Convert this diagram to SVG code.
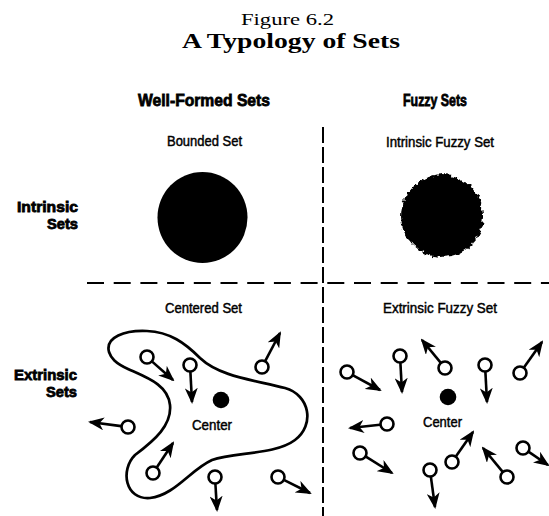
<svg xmlns="http://www.w3.org/2000/svg" width="549" height="516" viewBox="0 0 549 516">
<style>
.title{font-family:"Liberation Serif","DejaVu Serif",serif;fill:#000}
.head{font-family:"Liberation Sans","DejaVu Sans",sans-serif;font-weight:bold;font-size:17px;fill:#000;stroke:#000;stroke-width:0.8}
.side{font-family:"Liberation Sans","DejaVu Sans",sans-serif;font-weight:bold;font-size:15px;fill:#000;stroke:#000;stroke-width:0.8}
.lab{font-family:"Liberation Sans","DejaVu Sans",sans-serif;font-size:14px;fill:#000;stroke:#000;stroke-width:0.45}
.div{stroke:#000;stroke-width:2;fill:none}
.pt{fill:#fff;stroke:#000;stroke-width:2.6}
.arr{stroke:#000;stroke-width:2.6;fill:none;marker-end:url(#ah)}
.dot{fill:#000}
</style>
<defs>
<marker id="ah" viewBox="0 0 16 13" refX="14" refY="6.5" markerWidth="16" markerHeight="13" markerUnits="userSpaceOnUse" orient="auto">
<path d="M0,0 L16,6.5 L0,13 L4.5,6.5 Z" fill="#000"/>
</marker>
<filter id="rough" x="-20%" y="-20%" width="140%" height="140%">
<feTurbulence type="fractalNoise" baseFrequency="0.18" numOctaves="2" seed="3" result="n"/>
<feDisplacementMap in="SourceGraphic" in2="n" scale="7" xChannelSelector="R" yChannelSelector="G"/>
</filter>
</defs>
<rect width="549" height="516" fill="#fff"/>

<g id="title">
<text class="title" x="287.5" y="25" font-size="16" text-anchor="middle" textLength="93" lengthAdjust="spacingAndGlyphs">Figure 6.2</text>
<text class="title" x="291" y="48" font-size="22" font-weight="bold" text-anchor="middle" textLength="218" lengthAdjust="spacingAndGlyphs">A Typology of Sets</text>
</g>

<g id="headers">
<text class="head" x="204" y="106" text-anchor="middle" textLength="132" lengthAdjust="spacingAndGlyphs">Well-Formed Sets</text>
<text class="head" x="435" y="106" text-anchor="middle" textLength="64" lengthAdjust="spacingAndGlyphs">Fuzzy Sets</text>
<text class="side" x="78" y="212" text-anchor="end" textLength="61" lengthAdjust="spacingAndGlyphs">Intrinsic</text>
<text class="side" x="78" y="229" text-anchor="end" textLength="31" lengthAdjust="spacingAndGlyphs">Sets</text>
<text class="side" x="77" y="380" text-anchor="end" textLength="63" lengthAdjust="spacingAndGlyphs">Extrinsic</text>
<text class="side" x="77" y="397" text-anchor="end" textLength="31" lengthAdjust="spacingAndGlyphs">Sets</text>
</g>

<g id="dividers">
<line class="div" x1="323" y1="127" x2="323" y2="516" stroke-dasharray="16 4"/>
<line class="div" x1="87" y1="283" x2="549" y2="283" stroke-dasharray="17 9.7"/>
</g>

<g id="bounded-set">
<text class="lab" x="204.5" y="146" text-anchor="middle" textLength="75" lengthAdjust="spacingAndGlyphs">Bounded Set</text>
<ellipse cx="202.5" cy="217.5" rx="45" ry="45.5" fill="#000"/>
</g>

<g id="intrinsic-fuzzy-set">
<text class="lab" x="440" y="147" text-anchor="middle" textLength="108" lengthAdjust="spacingAndGlyphs">Intrinsic Fuzzy Set</text>
<circle cx="442" cy="216" r="41" fill="#000" filter="url(#rough)"/>
<circle cx="442" cy="216" r="39" fill="#000"/>
</g>

<g id="centered-set">
<text class="lab" x="203.5" y="313" text-anchor="middle" textLength="77" lengthAdjust="spacingAndGlyphs">Centered Set</text>
<path d="M 109,352 C 105,337 125,330 147,331 C 170,332 185,343 200,358 C 220,377 255,380 285,388 C 310,395 315,425 295,440 C 275,455 235,452 212,460 C 190,470 175,495 150,498 C 125,500 120,470 135,455 C 155,440 172,425 170,405 C 168,385 148,378 128,369 C 115,363 111,358 109,352 Z" fill="none" stroke="#000" stroke-width="2.7"/>
<circle class="dot" cx="221" cy="400" r="8.3"/>
<text class="lab" x="212" y="430" text-anchor="middle" textLength="40" lengthAdjust="spacingAndGlyphs">Center</text>
</g>

<g id="extrinsic-fuzzy-set">
<text class="lab" x="440" y="313" text-anchor="middle" textLength="114" lengthAdjust="spacingAndGlyphs">Extrinsic Fuzzy Set</text>
<circle class="dot" cx="448" cy="397" r="8.3"/>
<text class="lab" x="442.5" y="427" text-anchor="middle" textLength="39" lengthAdjust="spacingAndGlyphs">Center</text>
</g>

<g id="connectors">
<line class="arr" x1="152.2" y1="361.6" x2="173" y2="380"/>
<line class="arr" x1="190.4" y1="372" x2="192" y2="402"/>
<line class="arr" x1="265.3" y1="360.8" x2="280" y2="333"/>
<line class="arr" x1="121.1" y1="426.1" x2="90" y2="422"/>
<line class="arr" x1="156.9" y1="467.2" x2="173" y2="443"/>
<line class="arr" x1="215.4" y1="484" x2="217" y2="510"/>
<line class="arr" x1="284.3" y1="480.1" x2="310" y2="493"/>

<line class="arr" x1="353.1" y1="375.4" x2="380" y2="390"/>
<line class="arr" x1="400.4" y1="363" x2="402" y2="392"/>
<line class="arr" x1="440.6" y1="362.6" x2="422" y2="340"/>
<line class="arr" x1="485.4" y1="372" x2="487" y2="402"/>
<line class="arr" x1="524.1" y1="367.3" x2="542" y2="342"/>
<line class="arr" x1="380" y1="424.8" x2="350" y2="428"/>
<line class="arr" x1="365.9" y1="456.7" x2="392" y2="473"/>
<line class="arr" x1="430.9" y1="476.9" x2="435" y2="507"/>
<line class="arr" x1="456" y1="456.3" x2="473" y2="432"/>
<line class="arr" x1="502.5" y1="471.6" x2="483" y2="448"/>
<line class="arr" x1="528.8" y1="451.9" x2="548" y2="465"/>
</g>

<g id="elements">
<circle class="pt" cx="147" cy="357" r="6.5"/>
<circle class="pt" cx="190" cy="365" r="6.5"/>
<circle class="pt" cx="262" cy="367" r="6.5"/>
<circle class="pt" cx="128" cy="427" r="6.5"/>
<circle class="pt" cx="153" cy="473" r="6.5"/>
<circle class="pt" cx="215" cy="477" r="6.5"/>
<circle class="pt" cx="278" cy="477" r="6.5"/>

<circle class="pt" cx="347" cy="372" r="6.5"/>
<circle class="pt" cx="400" cy="356" r="6.5"/>
<circle class="pt" cx="445" cy="368" r="6.5"/>
<circle class="pt" cx="485" cy="365" r="6.5"/>
<circle class="pt" cx="520" cy="373" r="6.5"/>
<circle class="pt" cx="387" cy="424" r="6.5"/>
<circle class="pt" cx="360" cy="453" r="6.5"/>
<circle class="pt" cx="430" cy="470" r="6.5"/>
<circle class="pt" cx="452" cy="462" r="6.5"/>
<circle class="pt" cx="507" cy="477" r="6.5"/>
<circle class="pt" cx="523" cy="448" r="6.5"/>
</g>
</svg>
